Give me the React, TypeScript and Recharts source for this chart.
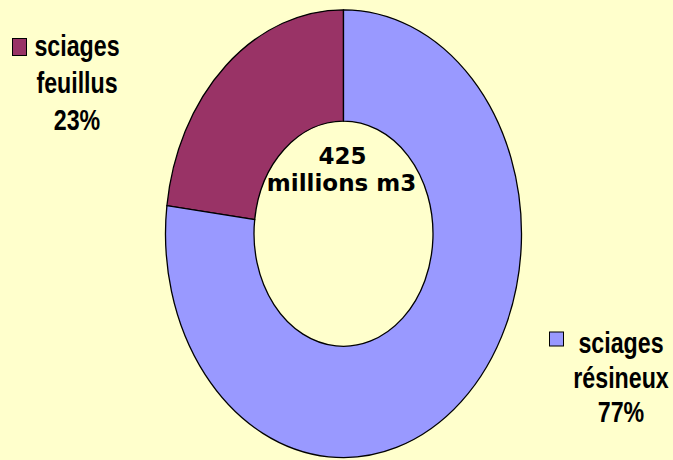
import { PieChart, Pie, Cell } from 'recharts';

const categories = ['sciages feuillus', 'sciages résineux'];
const shares = [23, 77];
const colors = ['#993366', '#9999FF'];
const labelLines = [
  ['sciages', 'feuillus', '23%'],
  ['sciages', 'résineux', '77%'],
];
const totalLines = ['425', 'millions m3'];

const data = categories.map((name, i) => ({ name, value: shares[i] }));

const W = 673;
const H = 460;
const CX = 343.5;
const CY = 233.7;
const STRETCH = 1.258;

// where each legend-like label sits (square + 3 centred lines)
const LABEL_POS = [
  { sq: [12.5, 38.5, 14, 17], cx: 77, base: [56.5, 93.5, 130.5] },
  { sq: [549.5, 332, 14, 14], cx: 621, base: [353, 388.5, 422.5] },
];

// no narrow font installed: squeeze Liberation Sans Bold horizontally
const NARROW = 0.8;

function renderLabel(props: any) {
  const i = props.index;
  const p = LABEL_POS[i];
  const lines = labelLines[i];
  return (
    <g key={'lbl' + i}>
      <rect x={p.sq[0]} y={p.sq[1]} width={p.sq[2]} height={p.sq[3]} fill={colors[i]} stroke="#000" strokeWidth={1} />
      <g transform={`translate(${p.cx},0) scale(${NARROW},1)`}>
        {lines.map((t, k) => (
          <text key={k} x={0} y={p.base[k]} textAnchor="middle" fontFamily="'Liberation Sans', Arial, sans-serif" fontWeight="bold" fontSize={29} fill="#000">
            {t}
          </text>
        ))}
      </g>
    </g>
  );
}

function CenterText() {
  return (
    <g>
      <text x={CX - 1} y={163.5} textAnchor="middle" fontFamily="'DejaVu Sans', Verdana, sans-serif" fontWeight="bold" fontSize={23} fill="#000">
        {totalLines[0]}
      </text>
      <text x={CX - 2} y={190.5} textAnchor="middle" fontFamily="'DejaVu Sans', Verdana, sans-serif" fontWeight="bold" fontSize={23} fill="#000">
        {totalLines[1]}
      </text>
    </g>
  );
}

export default function App() {
  return (
    <div style={{ position: 'fixed', left: 0, top: 0, width: W, height: H, background: '#FFFFCC' }}>
      <style>{`.ring path.recharts-sector{transform-origin:${CX}px ${CY}px;transform:scaleY(${STRETCH});vector-effect:non-scaling-stroke}`}</style>
      <PieChart width={W} height={H} className="ring" margin={{ top: 0, right: 0, bottom: 0, left: 0 }}>
        <Pie
          data={data}
          dataKey="value"
          nameKey="name"
          cx={CX}
          cy={CY}
          innerRadius={89.5}
          outerRadius={178}
          startAngle={90}
          endAngle={450}
          stroke="#000"
          strokeWidth={1.3}
          label={renderLabel}
          labelLine={false}
          isAnimationActive={false}
        >
          {data.map((d, i) => (
            <Cell key={d.name} fill={colors[i]} />
          ))}
        </Pie>
        <CenterText />
      </PieChart>
    </div>
  );
}
